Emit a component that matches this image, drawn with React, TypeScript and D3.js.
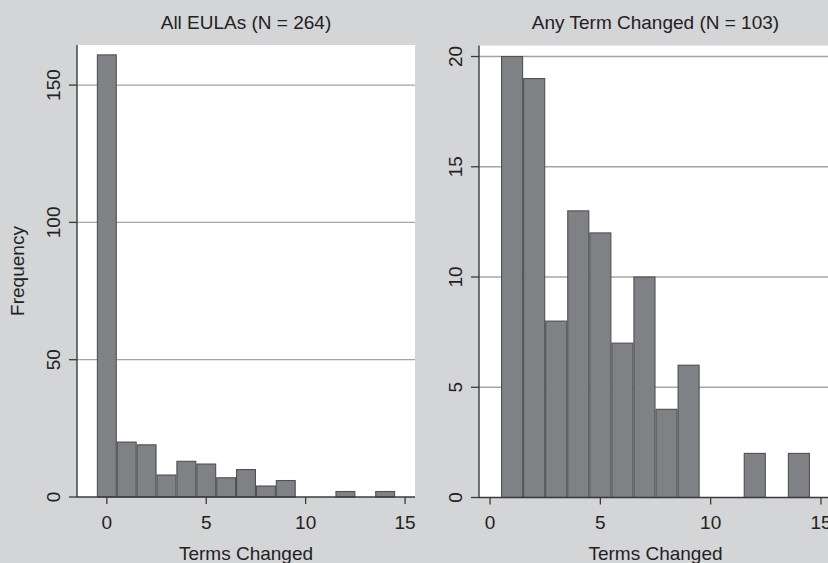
import React from "react";
import * as d3 from "d3";

const termsChanged = [0, 1, 2, 3, 4, 5, 6, 7, 8, 9, 10, 11, 12, 13, 14];
const allEulaCounts = [161, 20, 19, 8, 13, 12, 7, 10, 4, 6, 0, 0, 2, 0, 2];
const anyChangedCounts = [0, 20, 19, 8, 13, 12, 7, 10, 4, 6, 0, 0, 2, 0, 2];
const leftYTicks = [0, 50, 100, 150];
const rightYTicks = [0, 5, 10, 15, 20];
const xTicks = [0, 5, 10, 15];
const leftTitle = "All EULAs (N = 264)";
const rightTitle = "Any Term Changed (N = 103)";
const xLabel = "Terms Changed";
const yLabel = "Frequency";

const W = 828;
const H = 563;
const FONT = "'Liberation Sans', Arial, Helvetica, sans-serif";
const BG = "#d4d5d7";
const BAR = "#808185";
const BAR_STROKE = "#4f5052";
const GRID = "#a4a5a7";
const AXIS = "#3a3a3a";
const TEXT = "#222222";
const FS = 19;

type PanelProps = {
  counts: number[];
  title: string;
  xDomain: [number, number];
  xRange: [number, number];
  yDomain: [number, number];
  yRange: [number, number];
  yTicks: number[];
  showYLabel: boolean;
};

function Panel({ counts, title, xDomain, xRange, yDomain, yRange, yTicks, showYLabel }: PanelProps) {
  const x = d3.scaleLinear().domain(xDomain).range(xRange);
  const y = d3.scaleLinear().domain(yDomain).range(yRange);
  const [x0, x1] = xRange;
  const [yb, yt] = yRange;
  const cx = (x0 + x1) / 2;
  const bins = termsChanged.map((t, i) => ({ t, c: counts[i] })).filter((d) => d.c > 0);
  return (
    <g>
      <rect x={x0} y={yt} width={x1 - x0} height={yb - yt} fill="#ffffff" />
      {yTicks
        .filter((v) => v !== 0)
        .map((v) => (
          <line key={"g" + v} x1={x0} x2={x1} y1={y(v)} y2={y(v)} stroke={GRID} strokeWidth={1.3} />
        ))}
      {bins.map((d) => (
        <rect
          key={"b" + d.t}
          x={x(d.t - 0.5) + 0.5}
          y={y(d.c)}
          width={x(d.t + 0.5) - x(d.t - 0.5) - 1}
          height={y(0) - y(d.c)}
          fill={BAR}
          stroke={BAR_STROKE}
          strokeWidth={1.1}
        />
      ))}
      <line x1={x0} x2={x0} y1={yt} y2={yb} stroke={AXIS} strokeWidth={1.4} />
      <line x1={x0} x2={x1} y1={yb} y2={yb} stroke={AXIS} strokeWidth={1.4} />
      {yTicks.map((v) => (
        <g key={"yt" + v}>
          <line x1={x0 - 8} x2={x0} y1={y(v)} y2={y(v)} stroke={AXIS} strokeWidth={1.3} />
          <text
            transform={`translate(${x0 - 17},${y(v)}) rotate(-90)`}
            textAnchor="middle"
            fontFamily={FONT}
            fontSize={FS}
            fill={TEXT}
          >
            {v}
          </text>
        </g>
      ))}
      {xTicks.map((v) => (
        <g key={"xt" + v}>
          <line x1={x(v)} x2={x(v)} y1={yb} y2={yb + 7} stroke={AXIS} strokeWidth={1.3} />
          <text x={x(v)} y={528.5} textAnchor="middle" fontFamily={FONT} fontSize={FS} fill={TEXT}>
            {v}
          </text>
        </g>
      ))}
      <text x={cx} y={560} textAnchor="middle" fontFamily={FONT} fontSize={FS} fill={TEXT}>
        {xLabel}
      </text>
      <text x={cx} y={28.5} textAnchor="middle" fontFamily={FONT} fontSize={FS} fill={TEXT}>
        {title}
      </text>
      {showYLabel && (
        <text
          transform={`translate(24,${(yt + yb) / 2}) rotate(-90)`}
          textAnchor="middle"
          fontFamily={FONT}
          fontSize={FS}
          fill={TEXT}
        >
          {yLabel}
        </text>
      )}
    </g>
  );
}

export default function App() {
  return (
    <svg
      width={W}
      height={H}
      style={{ position: "absolute", left: 0, top: 0, display: "block" }}
      xmlns="http://www.w3.org/2000/svg"
    >
      <rect x={0} y={0} width={W} height={H} fill={BG} />
      <Panel
        counts={allEulaCounts}
        title={leftTitle}
        xDomain={[-1.5, 15.5]}
        xRange={[77, 415]}
        yDomain={[0, 164.6]}
        yRange={[497, 45]}
        yTicks={leftYTicks}
        showYLabel={true}
      />
      <Panel
        counts={anyChangedCounts}
        title={rightTitle}
        xDomain={[-0.5, 15.5]}
        xRange={[479, 832]}
        yDomain={[0, 20.5]}
        yRange={[497.5, 45.5]}
        yTicks={rightYTicks}
        showYLabel={false}
      />
    </svg>
  );
}
